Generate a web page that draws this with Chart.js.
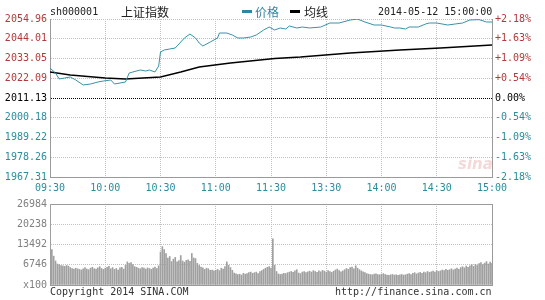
<!DOCTYPE html>
<html>
<head>
<meta charset="utf-8">
<script src="https://cdn.jsdelivr.net/npm/chart.js@4"></script>
<style>
  html, body { margin: 0; padding: 0; background: #fff; }
  #wrap { position: relative; width: 545px; height: 300px; overflow: hidden; }
  #wrap canvas { position: absolute; left: 0; }
  .t { position: absolute; white-space: nowrap; font: 10px/12px "DejaVu Sans Mono", monospace; color: #222; }
  .cjk { font: 12px/14px "Noto Sans CJK SC", sans-serif; }
  .bar { position: absolute; height: 3px; width: 10px; }
</style>
</head>
<body>
<div id="wrap">
  <canvas id="priceChart" width="545" height="200" style="top:0"></canvas>
  <canvas id="volChart" width="545" height="105" style="top:195px"></canvas>

  <div class="t" style="left:50px;top:6px">sh000001</div>
  <div class="t cjk" style="left:121px;top:5px">上证指数</div>
  <div class="bar" style="left:242px;top:10px;background:#2f86a0"></div>
  <div class="t cjk" style="left:255px;top:5px;color:#2f86a0">价格</div>
  <div class="bar" style="left:290px;top:10px;background:#000"></div>
  <div class="t cjk" style="left:304px;top:5px">均线</div>
  <div class="t" style="left:378px;top:6px">2014-05-12 15:00:00</div>

  <div class="t" style="left:458px;top:156px;font:italic bold 15px/16px 'DejaVu Sans',sans-serif;color:rgba(215,100,100,0.25)">sina</div>

  <div class="t" style="left:50px;top:286px;color:#333">Copyright 2014 SINA.COM</div>
  <div class="t" style="left:335px;top:286px;color:#333">http://finance.sina.com.cn</div>
</div>
<script>
// previous close 2011.13, scale runs +/-2.18%
var PREV_CLOSE = 2011.13;
var priceTicks = [2054.96, 2044.01, 2033.05, 2022.09, 2011.13, 2000.18, 1989.22, 1978.26, 1967.31];
var pctLabels = ["+2.18%", "+1.63%", "+1.09%", "+0.54%", "0.00%", "-0.54%", "-1.09%", "-1.63%", "-2.18%"];
var timeTicks = [0, 30, 60, 90, 120, 150, 180, 210, 240];
var timeLabels = ["09:30", "10:00", "10:30", "11:00", "11:30", "13:30", "14:00", "14:30", "15:00"];
var volTicks = [0, 6746, 13492, 20238, 26984];
var volLabels = ["x100", "6746", "13492", "20238", "26984"];

// minute index (0..240) -> index value
var priceMinutes = [0, 3, 5, 8, 11, 14, 18, 22, 26, 29, 33, 35, 38, 41, 43, 45, 49, 52, 54, 57,
  59, 60, 62, 65, 68, 71, 73, 76, 79, 81, 83, 87, 91, 92, 96, 99, 102, 105, 109, 112,
  116, 119, 122, 125, 128, 130, 134, 137, 141, 147, 152, 157, 163, 167, 171, 176, 180, 185, 187, 190,
  193, 195, 200, 204, 206, 210, 216, 220, 224, 228, 233, 237, 240];
var priceValues = [2027.78, 2025.00, 2021.67, 2022.23, 2022.78, 2021.12, 2018.34, 2018.90, 2020.01, 2020.56,
  2021.12, 2018.90, 2019.45, 2020.01, 2025.00, 2025.56, 2026.67, 2026.11, 2026.67, 2025.56,
  2028.89, 2036.65, 2037.76, 2038.32, 2038.87, 2042.20, 2044.42, 2046.64, 2044.42, 2041.65,
  2039.98, 2042.20, 2044.42, 2047.19, 2047.19, 2046.08, 2044.42, 2044.42, 2044.97, 2046.08,
  2048.86, 2050.52, 2048.86, 2049.97, 2049.41, 2051.08, 2049.97, 2050.52, 2049.97, 2050.52,
  2052.74, 2052.74, 2054.41, 2054.90, 2053.30, 2051.63, 2051.63, 2050.52, 2049.97, 2049.97,
  2049.41, 2050.52, 2050.52, 2052.19, 2052.74, 2052.74, 2051.63, 2052.19, 2052.74, 2054.41,
  2054.60, 2053.30, 2053.30];

var avgMinutes = [0, 11, 30, 41, 60, 71, 81, 98, 122, 136, 163, 190, 212, 240];
var avgValues = [2025.56, 2023.89, 2022.23, 2021.67, 2022.78, 2025.56, 2028.33, 2030.55,
  2033.05, 2033.88, 2036.10, 2037.76, 2038.87, 2040.54];

// per-minute volume (units of 100 shares)
var volumes = [
  26900, 11800, 9600, 8000, 7000, 6800, 6500, 6400, 6200, 6500, 6300,
  5800, 5500, 5300, 5600, 5400, 5200, 5000, 5400, 5800, 5300,
  5100, 5600, 5900, 5400, 5300, 5700, 6100, 5500, 5200, 5600,
  5900, 6200, 5400, 5800, 5200, 5500, 5000, 5700, 5900, 5300,
  6600, 7700, 7200, 7500, 6800, 6100, 5900, 5600, 5400, 5800,
  5600, 5300, 5700, 5500, 5200, 5600, 6000, 5500, 6400, 11000,
  12800, 11800, 10500, 9000, 9500, 7800, 8600, 9200, 7700, 8100,
  9800, 8000, 7600, 8200, 8400, 7900, 10500, 9000, 8800, 7200,
  6500, 6000, 5700, 5200, 5600, 5400, 4900, 5000, 4700, 4900,
  5200, 4800, 5600, 5300, 6100, 7700, 6600, 5800, 4900, 4000,
  3700, 3500, 3600, 3300, 3900, 3600, 3800, 4100, 4300, 3900,
  4100, 4300, 3800, 4500, 4800, 5200, 5600, 5900, 6100, 5600,
  15400, 6600, 4500, 3700, 3500, 3600, 3900, 3800, 4100, 4300,
  4500, 4200, 4700, 5100, 4000, 3800, 4300, 4500, 4100, 4400,
  4600, 4300, 4800, 4500, 4200, 4700, 4400, 4900, 4600, 4300,
  4800, 4500, 4200, 4600, 5000, 5300, 4800, 4400, 4700, 5100,
  5500, 5200, 5800, 6000, 5400, 6400, 5600, 5100, 4700, 4400,
  4100, 3800, 3600, 3500, 3400, 3600, 3700, 3500, 3400, 3600,
  3800, 3500, 3300, 3200, 3400, 3500, 3300, 3400, 3200, 3400,
  3500, 3300, 3400, 3600, 3800, 3500, 3900, 4100, 3700, 4000,
  4200, 3900, 4300, 4100, 4500, 4200, 4400, 4600, 4300, 4800,
  4500, 4700, 5000, 4800, 5200, 4900, 5100, 5400, 5000, 5300,
  5600, 5200, 5800, 6100, 5700, 6300, 5900, 6400, 6800, 6200,
  6900, 6500, 7100, 7500, 6800, 7300, 7800, 7000, 7600, 7200
];

var RED = "#b33a3a", TEAL = "#2b8c9c", GRID = "#c2c2c2", FRAME = "#9a9a9a";
var monoFont = { family: "'DejaVu Sans Mono', monospace", size: 10 };

function pts(xs, ys) {
  return xs.map(function (x, i) { return { x: x, y: ys[i] }; });
}
function setTicks(list) {
  return function (scale) { scale.ticks = list.map(function (v) { return { value: v }; }); };
}
function fixWidth(w) { return function (scale) { scale.width = w; }; }
function fixHeight(h) { return function (scale) { scale.height = h; }; }
function sideColor(ctx) {
  if (ctx.index < 4) return RED;
  if (ctx.index === 4) return "#000";
  return TEAL;
}

new Chart(document.getElementById("priceChart"), {
  type: "line",
  data: {
    datasets: [
      { data: pts(priceMinutes, priceValues), borderColor: "#3a90a8", borderWidth: 1,
        pointRadius: 0, tension: 0 },
      { data: pts(avgMinutes, avgValues), borderColor: "#000", borderWidth: 1.4,
        pointRadius: 0, tension: 0 }
    ]
  },
  options: {
    responsive: false,
    animation: false,
    layout: { padding: { top: 19, left: 0, right: 0, bottom: 0 } },
    plugins: { legend: { display: false }, tooltip: { enabled: false } },
    scales: {
      x: {
        type: "linear", min: 0, max: 240,
        afterBuildTicks: setTicks(timeTicks),
        afterFit: fixHeight(23),
        grid: { color: GRID, drawTicks: false },
        border: { color: FRAME, dash: [1, 1] },
        ticks: { color: TEAL, font: monoFont, padding: 5, maxRotation: 0, autoSkip: false,
                 callback: function (v, i) { return timeLabels[i]; } }
      },
      y: {
        type: "linear", position: "left", min: priceTicks[8], max: priceTicks[0],
        afterBuildTicks: setTicks(priceTicks),
        afterFit: fixWidth(50),
        grid: { drawTicks: false,
                color: function (c) { return c.index === 4 ? "#000" : GRID; } },
        border: { color: FRAME, dash: [1, 1] },
        ticks: { color: sideColor, font: monoFont, padding: 3, autoSkip: false,
                 callback: function (v, i) { return priceTicks[i].toFixed(2); } }
      },
      y2: {
        type: "linear", position: "right", min: priceTicks[8], max: priceTicks[0],
        afterBuildTicks: setTicks(priceTicks),
        afterFit: fixWidth(53),
        grid: { display: false, drawTicks: false },
        border: { color: FRAME },
        ticks: { color: sideColor, font: monoFont, padding: 3, autoSkip: false,
                 callback: function (v, i) { return pctLabels[i]; } }
      }
    }
  }
});

new Chart(document.getElementById("volChart"), {
  type: "bar",
  data: {
    datasets: [{
      data: volumes.map(function (v, i) { return { x: i, y: v }; }),
      backgroundColor: "#a0a0a0", barThickness: 1
    }]
  },
  options: {
    responsive: false,
    animation: false,
    layout: { padding: { top: 6, left: 0, right: 0, bottom: 15 } },
    plugins: { legend: { display: false }, tooltip: { enabled: false } },
    scales: {
      x: {
        type: "linear", min: 0, max: 240, offset: false,
        afterBuildTicks: setTicks(timeTicks),
        afterFit: fixHeight(0),
        grid: { color: GRID, drawTicks: false, offset: false },
        border: { color: FRAME, dash: [1, 1] },
        ticks: { display: false }
      },
      xTop: {
        type: "linear", position: "top", min: 0, max: 240,
        afterFit: fixHeight(0),
        grid: { display: false, drawTicks: false },
        border: { color: FRAME },
        ticks: { display: false }
      },
      y: {
        type: "linear", position: "left", min: 0, max: volTicks[4],
        afterBuildTicks: setTicks(volTicks),
        afterFit: fixWidth(50),
        grid: { color: GRID, drawTicks: false },
        border: { color: FRAME, dash: [1, 1] },
        ticks: { color: "#808080", font: monoFont, padding: 3, autoSkip: false,
                 callback: function (v, i) { return volLabels[i]; } }
      },
      yR: {
        type: "linear", position: "right", min: 0, max: volTicks[4],
        afterFit: fixWidth(53),
        grid: { display: false, drawTicks: false },
        border: { color: FRAME },
        ticks: { display: false }
      }
    }
  }
});
</script>
</body>
</html>
